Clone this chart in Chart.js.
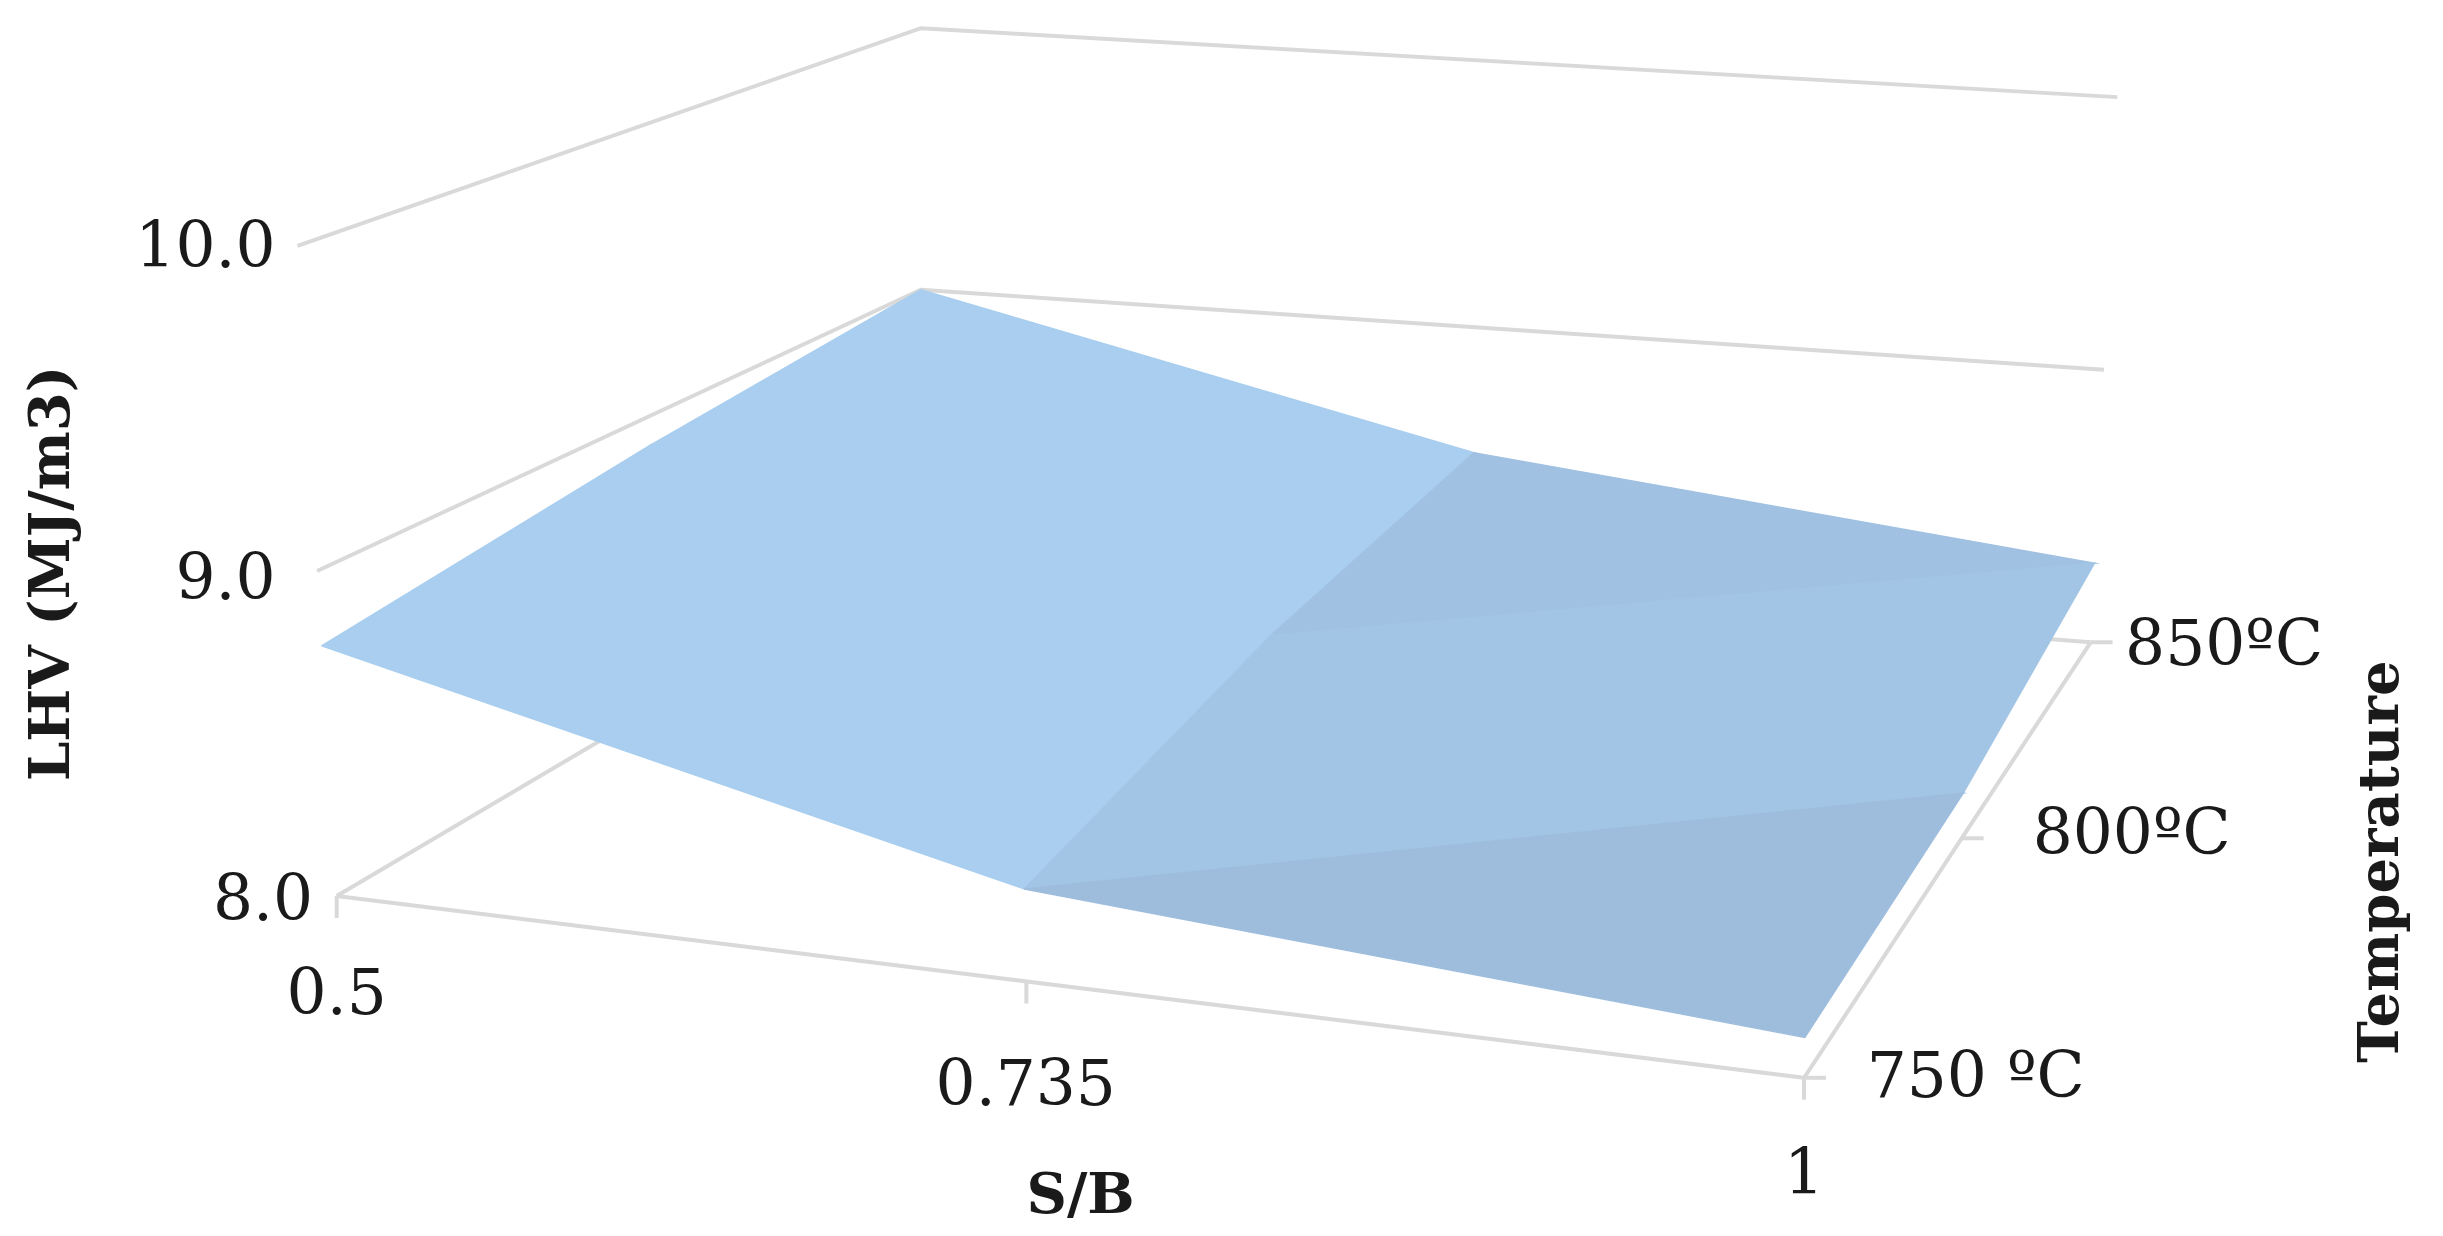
<!DOCTYPE html>
<html lang="en">
<head>
<meta charset="utf-8"/>
<script src="https://cdn.jsdelivr.net/npm/chart.js@4.4.0/dist/chart.umd.min.js"></script>
<style>
  html, body { margin: 0; padding: 0; background: #fff; }
  #wrap { width: 2443px; height: 1236px; }
</style>
</head>
<body>
<div id="wrap"><canvas id="c"></canvas></div>
<script>
// data
const sbLabels = ["0.5", "0.735", "1"];
const tempLabels = ["750 ºC", "800ºC", "850ºC"];
const lhvTicks = ["8.0", "9.0", "10.0"];
const lhv750 = [8.77, 8.28, 8.12];
const lhv800 = [8.90, 8.45, 8.15];
const lhv850 = [9.00, 8.53, 8.29];
const rows = [lhv750, lhv800, lhv850];

// view: corners of the box in a 1560 x 789 frame (floor at 8, top at 10)
const W = 1560, H = 789;
const box8  = { FL: [215, 572], FR: [1152, 688], BL: [588, 352], BR: [1335, 410] };
const box10 = { FL: [190, 157], FR: [1160, 258], BL: [588, 18],  BR: [1352, 62] };
// position of each category along its axis (perspective spacing)
const uPos = [0, 0.47, 1];
const vPos = [0, 0.55, 1];

function lerp(a, b, t) { return [a[0] + (b[0] - a[0]) * t, a[1] + (b[1] - a[1]) * t]; }
function proj(u, v, z) {
  const t = (z - 8) / 2;
  const c = {};
  for (const k of ["FL", "FR", "BL", "BR"]) c[k] = lerp(box8[k], box10[k], t);
  const p = lerp(lerp(c.FL, c.FR, u), lerp(c.BL, c.BR, u), v);
  return { x: p[0], y: H - p[1] };
}
function poly(pts) { return pts.map(p => proj(p[0], p[1], p[2])); }

const gridColor = "#d9d9d9";
const datasets = [];
function gridLine(pts) {
  datasets.push({ data: poly(pts), borderColor: gridColor, borderWidth: 4, pointRadius: 0, fill: false, order: 10, showLine: true });
}
gridLine([[0, 0, 9], [0, 1, 9], [1, 1, 9]]);
gridLine([[0, 0, 10], [0, 1, 10], [1, 1, 10]]);
gridLine([[0, 0, 8], [0, 1, 8], [1, 1, 8]]);
gridLine([[0, 0, 8], [1, 0, 8], [1, 1, 8]]);
for (let i = 0; i < 3; i++) {
  const a = proj(uPos[i], 0, 8);
  datasets.push({ data: [a, { x: a.x, y: a.y - 14 }], borderColor: gridColor, borderWidth: 4, pointRadius: 0, order: 10, showLine: true });
  const q = proj(1, vPos[i], 8);
  datasets.push({ data: [q, { x: q.x + 14, y: q.y }], borderColor: gridColor, borderWidth: 4, pointRadius: 0, order: 10, showLine: true });
}

// surface triangles, back to front
function shade(dzdu) {
  const t = Math.max(0, Math.min(1, (-dzdu - 0.3) / 0.6));
  const a = [158, 188, 220], b = [169, 206, 239];
  return "rgb(" + a.map((c, k) => Math.round(c + (b[k] - c) * t)).join(",") + ")";
}
let ord = 9;
for (let j = 1; j >= 0; j--) {
  for (let i = 0; i < 2; i++) {
    const u0 = uPos[i], u1 = uPos[i + 1], v0 = vPos[j], v1 = vPos[j + 1];
    const z00 = rows[j][i], z10 = rows[j][i + 1], z01 = rows[j + 1][i], z11 = rows[j + 1][i + 1];
    const tris = [
      [[u0, v0, z00], [u1, v1, z11], [u0, v1, z01], (z11 - z01) / 0.5],
      [[u0, v0, z00], [u1, v0, z10], [u1, v1, z11], (z10 - z00) / 0.5]
    ];
    for (const t of tris) {
      const pts = poly(t.slice(0, 3));
      pts.push(pts[0]);
      const col = shade(t[3]);
      datasets.push({ data: pts, borderColor: col, backgroundColor: col, borderWidth: 1.5,
        pointRadius: 0, fill: "shape", showLine: true, order: ord, tension: 0 });
      ord -= 0.1;
    }
  }
}

const labelsPlugin = {
  id: "labels3d",
  afterDraw(chart) {
    const ctx = chart.ctx, xs = chart.scales.x, ys = chart.scales.y;
    const k = chart.width / W;
    const txt = (s, x, y, align, bold, rot, size) => {
      ctx.save();
      ctx.translate(xs.getPixelForValue(x), ys.getPixelForValue(H - y));
      if (rot) ctx.rotate(rot);
      ctx.font = (bold ? "bold " : "") + Math.round(size * k) + "px 'DejaVu Serif', serif";
      ctx.fillStyle = "#1a1a1a";
      ctx.textAlign = align;
      ctx.textBaseline = "middle";
      ctx.fillText(s, 0, 0);
      ctx.restore();
    };
    const f = 40;
    txt(lhvTicks[2], 176, 160, "right", false, 0, f);
    txt(lhvTicks[1], 176, 372, "right", false, 0, f);
    txt(lhvTicks[0], 200, 577, "right", false, 0, f);
    txt(sbLabels[0], 215, 637, "center", false, 0, f);
    txt(sbLabels[1], 655, 695, "center", false, 0, f);
    txt(sbLabels[2], 1152, 752, "center", false, 0, f);
    txt(tempLabels[2], 1357, 414, "left", false, 0, f);
    txt(tempLabels[1], 1298, 535, "left", false, 0, f);
    txt(tempLabels[0], 1192, 690, "left", false, 0, f);
    txt("LHV (MJ/m3)", 35, 366, "center", true, -Math.PI / 2, 36);
    txt("S/B", 690, 765, "center", true, 0, 36);
    txt("Temperature", 1522, 550, "center", true, -Math.PI / 2, 36);
  }
};

new Chart(document.getElementById("c"), {
  type: "scatter",
  data: { datasets },
  plugins: [labelsPlugin],
  options: {
    responsive: true,
    maintainAspectRatio: false,
    animation: false,
    layout: { padding: 0 },
    plugins: { legend: { display: false }, tooltip: { enabled: false } },
    scales: {
      x: { type: "linear", min: 0, max: W, display: false },
      y: { type: "linear", min: 0, max: H, display: false }
    }
  }
});
</script>
</body>
</html>
